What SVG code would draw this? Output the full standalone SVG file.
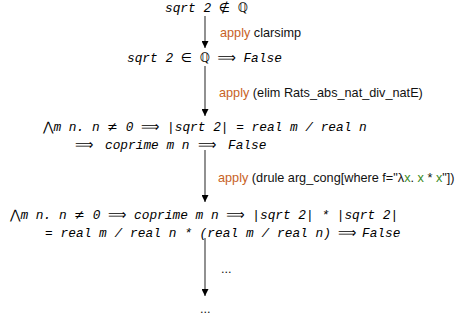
<svg xmlns="http://www.w3.org/2000/svg" width="459" height="321" viewBox="0 0 459 321">
<style>
.t{font-family:"Liberation Mono","DejaVu Sans Mono",monospace;font-style:italic;font-size:12.8px;fill:#000}
.s{font-family:"DejaVu Sans","Liberation Sans",sans-serif;font-style:normal}
.l{font-family:"Liberation Sans",Arial,sans-serif;font-size:12.7px;fill:#111}
.ap{fill:#c8621e}
.g{fill:#3a8a1e}
.e{stroke:#555;stroke-width:1.3;fill:none}
</style>
<defs>
<marker id="ah" viewBox="0 0 10 10" refX="10" refY="5" markerWidth="7" markerHeight="7" markerUnits="userSpaceOnUse" orient="auto"><path d="M0,0 L10,5 L0,10 z" fill="#000"/></marker>
</defs>
<g id="edges">
<line class="e" x1="205" y1="16" x2="205" y2="48" marker-end="url(#ah)"/>
<line class="e" x1="205" y1="66" x2="205" y2="116" marker-end="url(#ah)"/>
<line class="e" x1="205" y1="150" x2="205" y2="202" marker-end="url(#ah)"/>
<line class="e" x1="205" y1="238" x2="205" y2="296" marker-end="url(#ah)"/>
</g>
<g id="n1"><text class="t" x="165" y="12">sqrt 2 <tspan class="s">∉</tspan> <tspan class="s">ℚ</tspan></text></g>
<g id="l1"><text class="l" x="220" y="37"><tspan class="ap">apply</tspan> clarsimp</text></g>
<g id="n2"><text class="t" x="127" y="62">sqrt 2 <tspan class="s">∈</tspan> <tspan class="s">ℚ</tspan> <tspan class="s">⟹</tspan> False</text></g>
<g id="l2"><text class="l" x="219" y="97"><tspan class="ap">apply</tspan> (elim Rats_abs_nat_div_natE)</text></g>
<g id="n3">
<text class="t" y="131"><tspan x="43" class="s">⋀</tspan><tspan>m n. n </tspan><tspan class="s">≠</tspan><tspan> 0 </tspan><tspan class="s">⟹</tspan><tspan> |sqrt 2| = real m / real n</tspan></text>
<text class="t" y="149"><tspan x="75" class="s">⟹</tspan><tspan x="105">coprime m n</tspan><tspan x="198" class="s">⟹</tspan><tspan x="228">False</tspan></text>
</g>
<g id="l3"><text class="l" x="218" y="182"><tspan class="ap">apply</tspan> (drule arg_cong[where f="λ<tspan class="g">x</tspan>. <tspan class="g">x</tspan> * <tspan class="g">x</tspan>"])</text></g>
<g id="n4">
<text class="t" y="219"><tspan x="10" class="s">⋀</tspan><tspan>m n. n </tspan><tspan class="s">≠</tspan><tspan> 0 </tspan><tspan class="s">⟹</tspan><tspan> coprime m n </tspan><tspan class="s">⟹</tspan><tspan> |sqrt 2| * |sqrt 2|</tspan></text>
<text class="t" y="237"><tspan x="45" textLength="286" lengthAdjust="spacing">= real m / real n * (real m / real n)</tspan><tspan x="338" class="s">⟹</tspan><tspan x="362">False</tspan></text>
</g>
<g id="l4"><text class="l" x="221" y="273">...</text></g>
<g id="n5"><text class="l" x="200" y="313">...</text></g>
</svg>
